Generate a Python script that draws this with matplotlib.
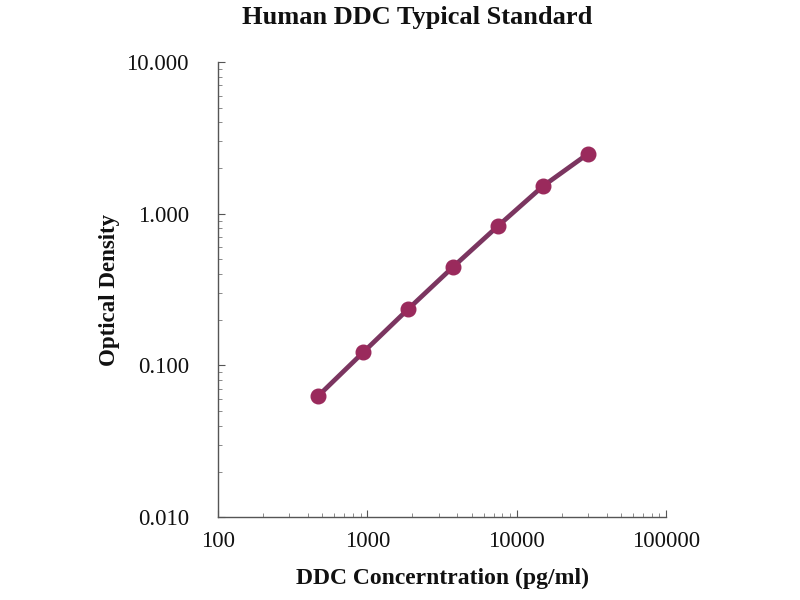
import matplotlib
matplotlib.use("Agg")
import matplotlib.pyplot as plt
from matplotlib.ticker import FixedLocator, LogLocator, NullFormatter

concentration = [469, 938, 1875, 3750, 7500, 15000, 30000]
optical_density = [0.063, 0.122, 0.235, 0.446, 0.83, 1.52, 2.48]
x_ticks = [100, 1000, 10000, 100000]
x_tick_labels = ["100", "1000", "10000", "100000"]
y_ticks = [0.01, 0.1, 1, 10]
y_tick_labels = ["0.010", "0.100", "1.000", "10.000"]

plt.rcParams['font.family'] = ['Liberation Serif', 'DejaVu Serif']

fig = plt.figure(figsize=(8, 6), dpi=100)
ax = fig.add_axes([0.2725, 0.138, 0.56, 0.7587])

ax.plot(concentration, optical_density, color='#7b3560', linewidth=3.4,
        marker='o', markersize=10.5, markerfacecolor='#9a2a5c',
        markeredgecolor='#9a2a5c', zorder=3)

ax.set_xscale('log')
ax.set_yscale('log')
ax.set_xlim(100, 100000)
ax.set_ylim(0.01, 10)

ax.xaxis.set_major_locator(FixedLocator(x_ticks))
ax.set_xticklabels(x_tick_labels)
ax.yaxis.set_major_locator(FixedLocator(y_ticks))
ax.set_yticklabels(y_tick_labels)
ax.xaxis.set_minor_locator(LogLocator(base=10, subs=range(2, 10)))
ax.yaxis.set_minor_locator(LogLocator(base=10, subs=range(2, 10)))
ax.xaxis.set_minor_formatter(NullFormatter())
ax.yaxis.set_minor_formatter(NullFormatter())

for s in ['top', 'right']:
    ax.spines[s].set_visible(False)
for s in ['left', 'bottom']:
    ax.spines[s].set_color('#555555')
    ax.spines[s].set_linewidth(1.0)

ax.tick_params(axis='both', which='major', direction='in', length=5,
               color='#555555', labelsize=16.5, labelcolor='#111111')
ax.tick_params(axis='both', which='minor', direction='in', length=3,
               color='#777777')
ax.tick_params(axis='x', which='major', pad=10)
ax.tick_params(axis='y', which='major', pad=21)

ax.set_xlabel('DDC Concerntration (pg/ml)', fontsize=17, fontweight='bold',
              labelpad=11, color='#111111')
ax.set_ylabel('Optical Density', fontsize=16.5, fontweight='bold',
              labelpad=4.5, color='#111111')
fig.text(0.521, 0.99, 'Human DDC Typical Standard', ha='center', va='top',
         fontsize=19, fontweight='bold', color='#111111')

fig.savefig('out.png', dpi=100)
